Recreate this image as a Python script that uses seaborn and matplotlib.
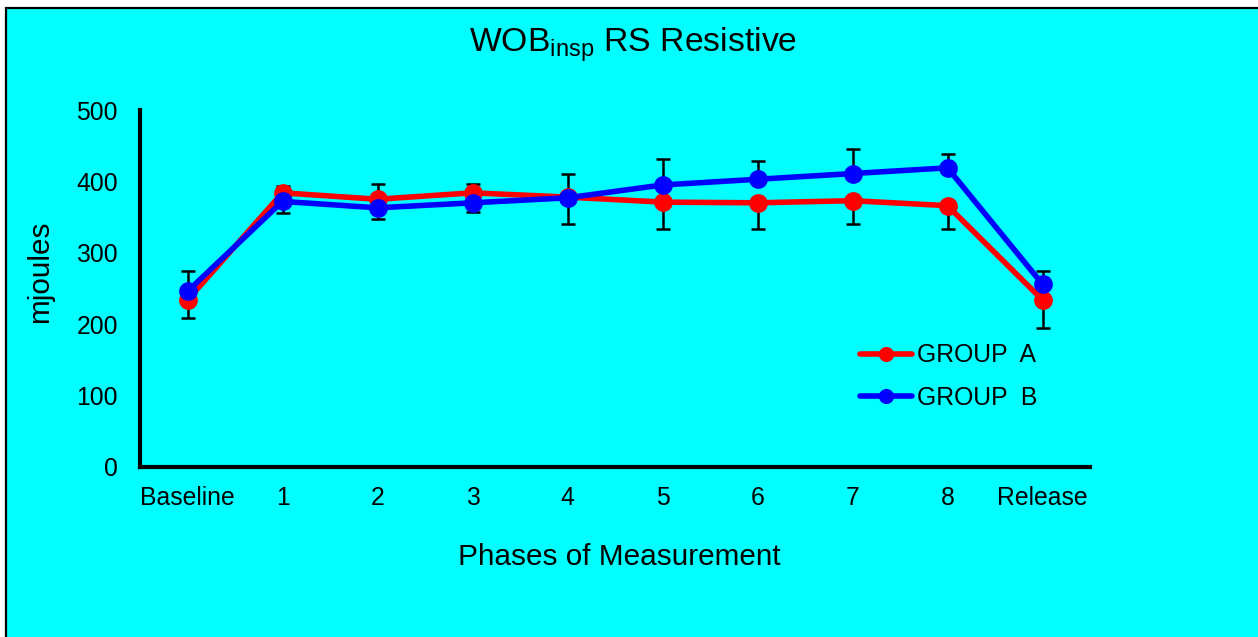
import numpy as np
import pandas as pd
import matplotlib
matplotlib.use('Agg')
import matplotlib.pyplot as plt
import seaborn as sns
from matplotlib.patches import Rectangle

# --- datos ---
fases = ['Baseline', '1', '2', '3', '4', '5', '6', '7', '8', 'Release']
grupos = ['GROUP  A', 'GROUP  B']
wob_a = [234, 384, 375, 384, 378, 371, 370, 373, 366, 234]
wob_b = [246, 372, 363, 370, 377, 395, 403, 411, 419, 256]
# barras de error de un solo lado (arriba / abajo)
err_a_arriba = [0, 10, 22, 12, 0, 0, 0, 0, 0, 0]
err_a_abajo = [25, 0, 0, 0, 38, 37, 36, 32, 32, 40]
err_b_arriba = [28, 0, 0, 0, 34, 37, 25, 35, 20, 19]
err_b_abajo = [0, 16, 16, 13, 0, 0, 0, 0, 0, 0]

df = pd.DataFrame({
    'fase': fases * 2,
    'grupo': [grupos[0]] * len(fases) + [grupos[1]] * len(fases),
    'mj': wob_a + wob_b,
})

sns.set_style('white')
plt.rcParams['font.family'] = ['Liberation Sans', 'DejaVu Sans']
plt.rcParams['mathtext.default'] = 'regular'
plt.rcParams['text.color'] = 'black'
plt.rcParams['axes.labelcolor'] = 'black'

fig, ax = plt.subplots(figsize=(12.58, 6.37), dpi=100)
fig.patch.set_facecolor('white')
fig.subplots_adjust(left=140 / 1258, right=1090 / 1258, bottom=1 - 467 / 637, top=1 - 110 / 637)

# marco cyan con borde negro
fig.patches.append(Rectangle((6.5 / 1258, -0.05), 1.1, 1.05 - 8 / 637, transform=fig.transFigure,
                             facecolor='#00FFFF', edgecolor='black', linewidth=1.6, zorder=-10))
ax.set_facecolor('none')

colores = {grupos[0]: '#FF0000', grupos[1]: '#0000FF'}
sns.pointplot(data=df, x='fase', y='mj', hue='grupo', order=fases, hue_order=grupos,
              palette=colores, markers='o', errorbar=None, linewidth=4, markersize=10.5, ax=ax)

# barras de error
xs = np.arange(len(fases))
for vals, abajo, arriba in [(wob_a, err_a_abajo, err_a_arriba), (wob_b, err_b_abajo, err_b_arriba)]:
    ax.errorbar(xs, vals, yerr=[abajo, arriba], fmt='none', ecolor='black',
                elinewidth=1.8, capsize=5, capthick=1.8, zorder=1)

ax.set_xlim(-0.5, len(fases) - 0.5)
ax.set_ylim(0, 500)
ax.set_yticks([0, 100, 200, 300, 400, 500])

for s in ['top', 'right']:
    ax.spines[s].set_visible(False)
for s in ['left', 'bottom']:
    ax.spines[s].set_linewidth(3)
    ax.spines[s].set_color('black')

ax.tick_params(axis='both', length=0, labelsize=17.8, colors='black')
ax.tick_params(axis='x', pad=14)
ax.tick_params(axis='y', pad=16)

ax.set_xlabel('Phases of Measurement', fontsize=21.4, va='center')
ax.xaxis.set_label_coords((619 - 140) / 950, -(557 - 467) / 357)
ax.set_ylabel('mjoules', fontsize=21.4, va='center', ha='center')
ax.yaxis.set_label_coords(-(140 - 40) / 950, (467 - 272) / 357)

fig.text(633.5 / 1258, 1 - 52 / 637, 'WOB$_{insp}$ RS Resistive', fontsize=24.3,
         ha='center', va='baseline')

handles, labels = ax.get_legend_handles_labels()
ax.legend(handles, labels, loc='center left', bbox_to_anchor=(860 / 1258, 1 - 376.5 / 637),
          bbox_transform=fig.transFigure, frameon=False, fontsize=17.8, handlelength=2.1,
          handletextpad=0.2, labelspacing=0.75, borderpad=0, borderaxespad=0, markerscale=0.75)

fig.savefig('out.png', dpi=100)
